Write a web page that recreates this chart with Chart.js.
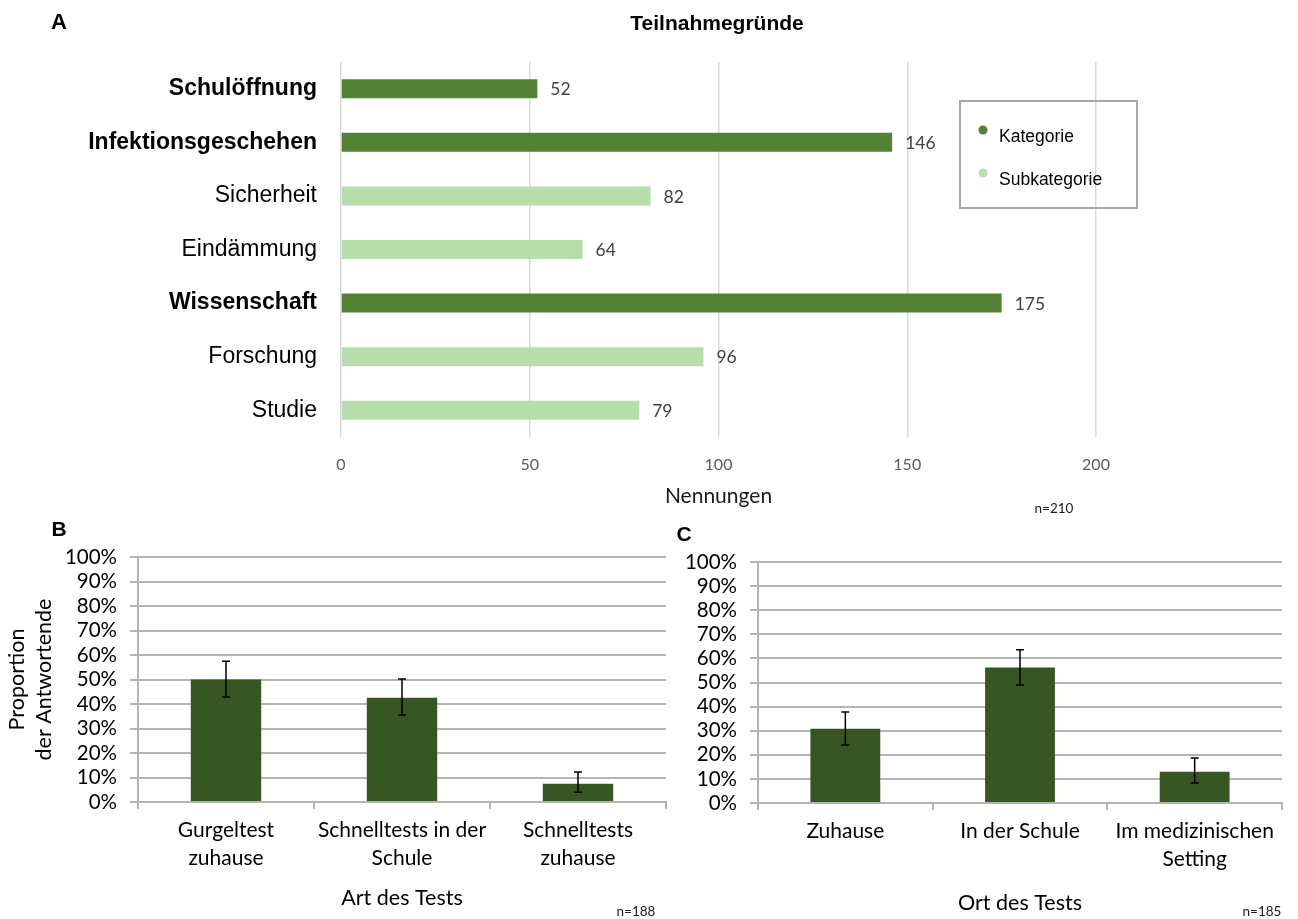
<!DOCTYPE html>
<html lang="de">
<head>
<meta charset="utf-8">
<title>Teilnahmegründe und Testpräferenzen</title>
<script src="https://cdn.jsdelivr.net/npm/chart.js@4/dist/chart.umd.min.js"></script>
<style>
  html, body { margin: 0; padding: 0; background: #fff; }
  #page { position: relative; width: 1298px; height: 919px; overflow: hidden; font-family: "Liberation Sans", Arial, sans-serif; }
  .box { position: absolute; }
  .txt { position: absolute; transform: translate(-50%, -50%); white-space: nowrap; color: #000; }
  .panel { font-weight: bold; font-size: 22px; }
  .note { font-family: Lato, sans-serif; font-size: 13.5px; color: #1a1a1a; }
</style>
</head>
<body>
<div id="page">
  <div class="box" style="left:0;top:0;width:1298px;height:515px"><canvas id="reasons"></canvas></div>
  <div class="box" style="left:0;top:515px;width:670px;height:404px"><canvas id="testType"></canvas></div>
  <div class="box" style="left:670px;top:515px;width:628px;height:404px"><canvas id="testPlace"></canvas></div>

  <div class="txt panel" style="left:59px;top:22px">A</div>
  <div class="txt panel" style="left:717px;top:23px;font-size:21px">Teilnahmegründe</div>
  <div class="txt note" style="left:1054px;top:508px">n=210</div>
  <div class="txt panel" style="left:59px;top:529px;font-size:21px">B</div>
  <div class="txt note" style="left:636px;top:911px">n=188</div>
  <div class="txt panel" style="left:684px;top:534px;font-size:21px">C</div>
  <div class="txt note" style="left:1262px;top:911px">n=185</div>
</div>

<script>
// A: reasons for taking part (number of mentions)
const reasons = ['Schulöffnung', 'Infektionsgeschehen', 'Sicherheit', 'Eindämmung', 'Wissenschaft', 'Forschung', 'Studie'];
const reasonCounts = [52, 146, 82, 64, 175, 96, 79];
const reasonLevel = ['Kategorie', 'Kategorie', 'Subkategorie', 'Subkategorie', 'Kategorie', 'Subkategorie', 'Subkategorie'];
const levels = ['Kategorie', 'Subkategorie'];
const countMax = 200;
const countStep = 50;

// B: preferred kind of test (share of respondents, %, with 95% CI)
const testTypes = [['Gurgeltest', 'zuhause'], ['Schnelltests in der', 'Schule'], ['Schnelltests', 'zuhause']];
const testTypeShare = [50.0, 42.6, 7.4];
const testTypeLow = [42.9, 35.5, 4.0];
const testTypeHigh = [57.5, 50.2, 12.2];

// C: preferred place of testing
const testPlaces = ['Zuhause', 'In der Schule', ['Im medizinischen', 'Setting']];
const testPlaceShare = [30.8, 56.2, 13.0];
const testPlaceLow = [24.1, 49.0, 8.3];
const testPlaceHigh = [37.8, 63.6, 18.7];

const shareMax = 100;
const shareStep = 10;

const levelColors = { Kategorie: '#548235', Subkategorie: '#b7ddaa' };
const calibriLike = 'Lato, "Noto Sans", sans-serif';
const arialLike = '"Liberation Sans", Arial, sans-serif';

// value printed right of every bar
const valueLabels = {
  id: 'valueLabels',
  afterDatasetsDraw(chart) {
    const ctx = chart.ctx;
    ctx.save();
    ctx.font = '17.5px ' + calibriLike;
    ctx.fillStyle = '#404040';
    ctx.textAlign = 'left';
    ctx.textBaseline = 'middle';
    chart.data.datasets.forEach((ds, di) => {
      chart.getDatasetMeta(di).data.forEach((bar, i) => {
        if (ds.data[i] == null) return;
        ctx.fillText(String(ds.data[i]), bar.x + 13, bar.y + 1);
      });
    });
    ctx.restore();
  }
};

// framed legend with round markers
const boxLegend = {
  id: 'boxLegend',
  afterDraw(chart, args, opts) {
    const ctx = chart.ctx;
    ctx.save();
    ctx.strokeStyle = '#a6a6a6';
    ctx.lineWidth = 2;
    ctx.strokeRect(opts.x, opts.y, opts.w, opts.h);
    ctx.font = '17.5px ' + arialLike;
    ctx.textBaseline = 'middle';
    chart.data.datasets.forEach((ds, i) => {
      const y = opts.y + 29 + i * 43;
      ctx.fillStyle = ds.backgroundColor;
      ctx.beginPath();
      ctx.arc(opts.x + 23, y, 4.5, 0, Math.PI * 2);
      ctx.fill();
      ctx.fillStyle = '#000';
      ctx.fillText(ds.label, opts.x + 39, y + 7);
    });
    ctx.restore();
  }
};

// confidence interval whiskers on each bar
const errorBars = {
  id: 'errorBars',
  afterDatasetsDraw(chart, args, opts) {
    const ctx = chart.ctx;
    const y = chart.scales.y;
    ctx.save();
    ctx.strokeStyle = '#000';
    ctx.lineWidth = 1.5;
    chart.getDatasetMeta(0).data.forEach((bar, i) => {
      const top = y.getPixelForValue(opts.high[i]);
      const bottom = y.getPixelForValue(opts.low[i]);
      ctx.beginPath();
      ctx.moveTo(bar.x, top);
      ctx.lineTo(bar.x, bottom);
      ctx.moveTo(bar.x - 4, top);
      ctx.lineTo(bar.x + 4, top);
      ctx.moveTo(bar.x - 4, bottom);
      ctx.lineTo(bar.x + 4, bottom);
      ctx.stroke();
    });
    ctx.restore();
  }
};

new Chart(document.getElementById('reasons'), {
  type: 'bar',
  data: {
    labels: reasons,
    datasets: levels.map(lv => ({
      label: lv,
      data: reasonCounts.map((v, i) => reasonLevel[i] === lv ? v : null),
      backgroundColor: levelColors[lv],
      grouped: false,
      categoryPercentage: 0.355,
      barPercentage: 1
    }))
  },
  options: {
    indexAxis: 'y',
    responsive: true,
    maintainAspectRatio: false,
    animation: false,
    layout: { padding: { top: 62, right: 202, bottom: 0, left: 0 } },
    plugins: {
      legend: { display: false },
      tooltip: { enabled: false },
      boxLegend: { x: 960, y: 101, w: 177, h: 107 }
    },
    scales: {
      x: {
        min: 0,
        max: countMax,
        ticks: { stepSize: countStep, padding: 18, color: '#595959', font: { family: calibriLike, size: 16 } },
        grid: { color: '#d9d9d9', lineWidth: 1.5, drawTicks: false },
        border: { display: false },
        title: { display: true, text: 'Nennungen', color: '#1a1a1a', font: { family: calibriLike, size: 21 }, padding: { top: 0, bottom: 6 } },
        afterFit(scale) { scale.height = 78; }
      },
      y: {
        grid: { display: false },
        border: { display: false },
        ticks: {
          padding: 16,
          color: '#000',
          font: ctx => ({ family: arialLike, size: 23, weight: reasonLevel[ctx.index] === 'Kategorie' ? 'bold' : 'normal' })
        },
        afterFit(scale) { scale.width = 341; }
      }
    }
  },
  plugins: [valueLabels, boxLegend]
});

function shareChart(id, labels, share, low, high, opt) {
  const axisGray = '#b4b4b4';
  return new Chart(document.getElementById(id), {
    type: 'bar',
    data: {
      labels: labels,
      datasets: [{
        data: share,
        backgroundColor: '#375623',
        categoryPercentage: 0.4,
        barPercentage: 1
      }]
    },
    options: {
      responsive: true,
      maintainAspectRatio: false,
      animation: false,
      layout: { padding: { top: opt.top, right: opt.right, bottom: 0, left: 0 } },
      plugins: {
        legend: { display: false },
        tooltip: { enabled: false },
        errorBars: { low: low, high: high }
      },
      scales: {
        x: {
          ticks: { padding: 7, color: '#000', font: { family: calibriLike, size: 21, lineHeight: 1.33 } },
          grid: { drawOnChartArea: false, drawTicks: true, tickLength: 7, color: axisGray, lineWidth: 2, offset: true },
          border: { color: axisGray, width: 2 },
          title: { display: true, text: opt.xTitle, color: '#000', font: { family: calibriLike, size: 21.5 }, padding: { top: 0, bottom: opt.xTitleGap } },
          afterFit(scale) { scale.height = opt.xHeight; }
        },
        y: {
          min: 0,
          max: shareMax,
          ticks: { stepSize: shareStep, autoSkip: false, padding: 13, color: '#000', font: { family: calibriLike, size: 20.5 }, callback: v => v + '%' },
          grid: { color: axisGray, lineWidth: 2, tickLength: 8 },
          border: { color: axisGray, width: 2 },
          title: opt.yTitle ? { display: true, text: opt.yTitle, color: '#000', font: { family: calibriLike, size: 21.5, lineHeight: 1.25 }, padding: { top: 4, bottom: 0 } } : { display: false },
          afterFit(scale) { scale.width = opt.yWidth; }
        }
      }
    },
    plugins: [errorBars]
  });
}

shareChart('testType', testTypes, testTypeShare, testTypeLow, testTypeHigh, {
  top: 42, right: 4, xHeight: 117, yWidth: 138, xTitleGap: 8,
  xTitle: 'Art des Tests', yTitle: ['Proportion', 'der Antwortende']
});

shareChart('testPlace', testPlaces, testPlaceShare, testPlaceLow, testPlaceHigh, {
  top: 47, right: 16, xHeight: 116, yWidth: 88, xTitleGap: 3,
  xTitle: 'Ort des Tests', yTitle: null
});
</script>
</body>
</html>
